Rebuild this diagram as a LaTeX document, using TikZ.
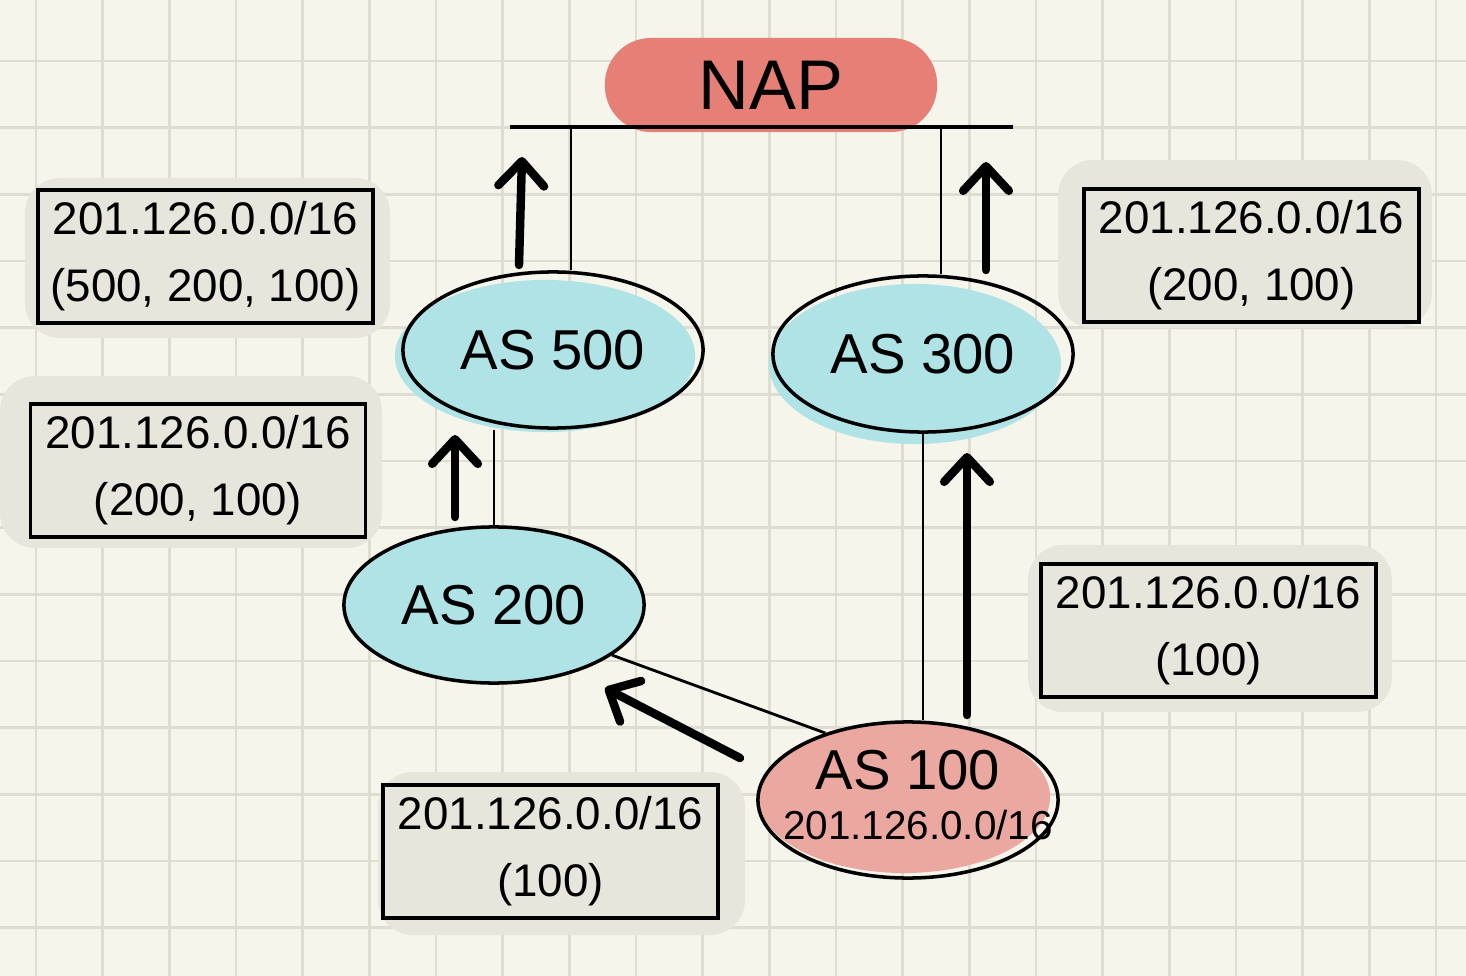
\documentclass[tikz,border=0pt]{standalone}
\usepackage{fontspec}
\setmainfont{Liberation Sans}
\usetikzlibrary{shapes.geometric,arrows.meta}
\definecolor{bg}{HTML}{F5F5EB}
\definecolor{gridc}{HTML}{DEDDD2}
\definecolor{napc}{HTML}{E67F76}
\definecolor{cyanc}{HTML}{B0E3E6}
\definecolor{pinkc}{HTML}{EBA8A0}
\definecolor{boxc}{HTML}{E7E6DC}
\begin{document}
\begin{tikzpicture}[x=0.01cm,y=-0.01cm,
  asnode/.style={ellipse,draw=black,line width=1pt,minimum width=3cm,minimum height=1.56cm,inner sep=0pt,font=\fontsize{16}{20}\selectfont,align=center},
  infobox/.style={rectangle,draw=black,fill=boxc,line width=1pt,minimum width=3.35cm,minimum height=1.33cm,inner sep=0pt,align=center,font=\fontsize{13}{19}\selectfont},
  shadowblob/.style={fill=boxc,rounded corners=0.35cm},
  link/.style={draw=black,line width=0.8pt},
  bigarrow/.style={draw=black,line width=2.4pt,line cap=round,-{Straight Barb[length=7pt,width=13pt,line cap=round,round]}}
]
\useasboundingbox (0,0) rectangle (1466,976);
\clip (0,0) rectangle (1466,976);
\fill[bg] (0,0) rectangle (1466,976);
\foreach \k in {0,...,21} \draw[gridc,line width=0.8pt] (36+66.667*\k,0) -- (36+66.667*\k,976);
\foreach \k in {0,...,14} \draw[gridc,line width=0.8pt] (0,61+66.667*\k) -- (1466,61+66.667*\k);

% shadows behind boxes
\fill[shadowblob] (25,178) rectangle (390,338);
\fill[shadowblob] (1058,160) rectangle (1432,328);
\fill[shadowblob] (0,376) rectangle (382,548);
\fill[shadowblob] (1028,545) rectangle (1392,712);
\fill[shadowblob] (378,772) rectangle (745,935);

% colour blobs behind the ellipses
\fill[cyanc] (545,356) ellipse [x radius=1.5cm,y radius=0.76cm];
\fill[cyanc] (915,364) ellipse [x radius=1.46cm,y radius=0.8cm];
\fill[cyanc] (494,605) ellipse [x radius=1.5cm,y radius=0.78cm];
\fill[pinkc] (904,797) ellipse [x radius=1.46cm,y radius=0.76cm];

% NAP
\node[fill=napc,rounded corners=0.46cm,minimum width=3.32cm,minimum height=0.94cm,inner sep=0pt,font=\fontsize{20}{24}\selectfont] (nap) at (771,85) {NAP};
\coordinate (barL) at (510,127);
\coordinate (barR) at (1013,127);
\draw[link,line width=1pt] (barL) -- (barR);
\coordinate (nap1) at (571,127);
\coordinate (nap2) at (941,127);

% AS nodes
\node[asnode] (as500) at (553,350) {AS 500};
\node[asnode] (as300) at (923,354) {AS 300};
\node[asnode] (as200) at (494,605) {AS 200};
\node[asnode] (as100) at (908,800) {};
\node[font=\fontsize{16}{20}\selectfont] (as100a) at (908,770) {AS 100};
\node[font=\fontsize{11.5}{14}\selectfont] (as100b) at (918,825) {201.126.0.0/16};

% links
\draw[link] (nap1) -- (nap1 |- as500.north);
\draw[link] (nap2) -- (nap2 |- as300.north);
\draw[link] (as200.north) -- (as200.north |- as500.south);
\draw[link] (as300.south) -- (as300.south |- as100.north);
\draw[link] (as200.-23) -- (as100.141);

% info boxes
\node[infobox] (b1) at (205.5,256.5) {201.126.0.0/16\\(500, 200, 100)};
\node[infobox] (b2) at (1251.5,255.5) {201.126.0.0/16\\(200, 100)};
\node[infobox] (b3) at (198,470.5) {201.126.0.0/16\\(200, 100)};
\node[infobox] (b4) at (1208.5,630.5) {201.126.0.0/16\\(100)};
\node[infobox] (b5) at (550.5,851.5) {201.126.0.0/16\\(100)};

% advertisement arrows
\coordinate (a1s) at (519,265); \coordinate (a1e) at (522,157);
\coordinate (a2s) at (986,270); \coordinate (a2e) at (986,162);
\coordinate (a3s) at (455,517); \coordinate (a3e) at (455,435);
\coordinate (a4s) at (967,715); \coordinate (a4e) at (967,453);
\coordinate (a5s) at (740,758); \coordinate (a5e) at (605,688);
\draw[bigarrow] (a1s) -- (a1e);
\draw[bigarrow] (a2s) -- (a2e);
\draw[bigarrow] (a3s) -- (a3e);
\draw[bigarrow] (a4s) -- (a4e);
\draw[bigarrow] (a5s) -- (a5e);
\end{tikzpicture}
\end{document}
